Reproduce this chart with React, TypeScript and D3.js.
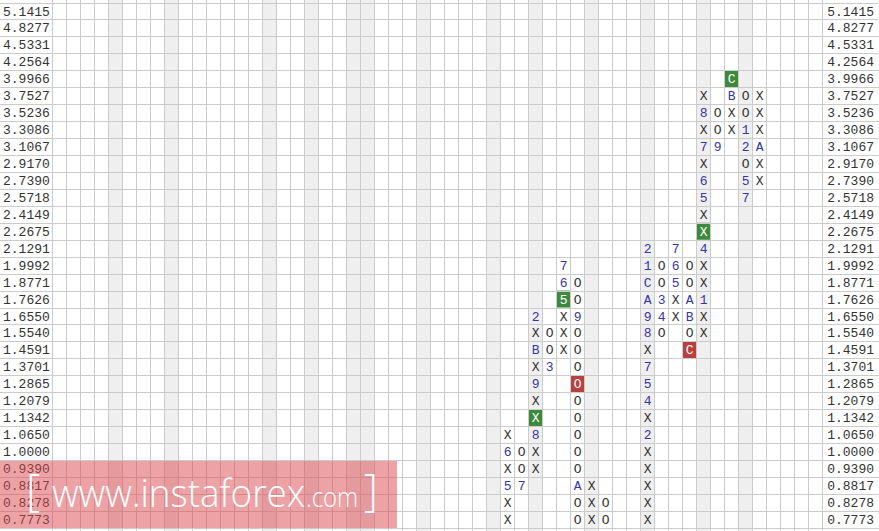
import React from 'react';
import * as d3 from 'd3';

// price boxes, top to bottom
const priceLevels = [
  '5.1415', '4.8277', '4.5331', '4.2564', '3.9966', '3.7527', '3.5236', '3.3086',
  '3.1067', '2.9170', '2.7390', '2.5718', '2.4149', '2.2675', '2.1291', '1.9992',
  '1.8771', '1.7626', '1.6550', '1.5540', '1.4591', '1.3701', '1.2865', '1.2079',
  '1.1342', '1.0650', '1.0000', '0.9390', '0.8817', '0.8278', '0.7773',
];

// columns of the point & figure chart: column index, top box, marks going down
const pfColumns = [
  { col: 32, top: '1.0650', marks: 'X6X5XX' },
  { col: 33, top: '1.0000', marks: 'OO7' },
  { col: 34, top: '1.6550', marks: '2XBX9XX8XX' },
  { col: 35, top: '1.5540', marks: 'OO3' },
  { col: 36, top: '1.9992', marks: '765XXX' },
  { col: 37, top: '1.8771', marks: 'OO9OOOOOOOOOAOO' },
  { col: 38, top: '0.8817', marks: 'XXX' },
  { col: 39, top: '0.8278', marks: 'OO' },
  { col: 42, top: '2.1291', marks: '21CA98X754X2XXXXX' },
  { col: 43, top: '1.9992', marks: 'OO34O' },
  { col: 44, top: '2.1291', marks: '765XX' },
  { col: 45, top: '1.9992', marks: 'OOABOC' },
  { col: 46, top: '3.7527', marks: 'X8X7X65XX4XX1XX' },
  { col: 47, top: '3.5236', marks: 'OO9' },
  { col: 48, top: '3.9966', marks: 'CBXX' },
  { col: 49, top: '3.7527', marks: 'OO12O57' },
  { col: 50, top: '3.7527', marks: 'XXXAXX' },
];

const greenBoxes = [
  { col: 34, price: '1.1342' },
  { col: 36, price: '1.7626' },
  { col: 46, price: '2.2675' },
  { col: 48, price: '3.9966' },
];
const redBoxes = [
  { col: 37, price: '1.2865' },
  { col: 45, price: '1.4591' },
];

const shadedColumns = [4, 8, 15, 18, 21, 22, 26, 31, 34, 38, 42, 46, 49];
const columnCount = 55;

const W = 879;
const H = 531;

const App = () => {
  const x = d3.scaleBand<number>()
    .domain(d3.range(columnCount))
    .range([53, 822.5]);
  const y = d3.scaleBand<string>()
    .domain(priceLevels)
    .range([2.5, 527.8]);

  const bw = x.bandwidth();
  const bh = y.bandwidth();

  const cells: { col: number; price: string; ch: string }[] = [];
  pfColumns.forEach(c => {
    const start = priceLevels.indexOf(c.top);
    c.marks.split('').forEach((ch, i) => {
      cells.push({ col: c.col, price: priceLevels[start + i], ch });
    });
  });
  const key = (col, price) => `${col}|${price}`;
  const green = new Set(greenBoxes.map(d => key(d.col, d.price)));
  const red = new Set(redBoxes.map(d => key(d.col, d.price)));

  const mono = '"Courier New", "Liberation Mono", monospace';

  return (
    <svg width={W} height={H} style={{ position: 'absolute', left: 0, top: 0, background: '#fff' }}>
      {shadedColumns.map(c => (
        <rect key={'s' + c} x={x(c)} y={0} width={bw} height={H} fill="#efefef" />
      ))}
      {[...greenBoxes.map(d => ({ ...d, fill: '#3d8a3d' })), ...redBoxes.map(d => ({ ...d, fill: '#b8403f' }))].map(d => (
        <rect key={'h' + d.col + d.price} x={x(d.col)} y={y(d.price)} width={bw} height={bh} fill={d.fill} />
      ))}
      {/* horizontal grid lines */}
      {d3.range(priceLevels.length + 1).map(i => {
        const yy = Math.round(2.5 + i * bh) + 0.5;
        return <line key={'h' + i} x1={0} x2={W} y1={yy} y2={yy} stroke="#cbcbcb" />;
      })}
      {/* vertical grid lines */}
      {d3.range(columnCount + 1).map(i => {
        const xx = Math.round(53 + i * bw) - 0.5;
        return <line key={'v' + i} x1={xx} x2={xx} y1={0} y2={H} stroke="#cbcbcb" />;
      })}
      {priceLevels.map(p => (
        <g key={'l' + p} fontFamily={mono} fontSize={13} fill="#333">
          <text x={3} y={y(p) + bh / 2} dy="0.35em">{p}</text>
          <text x={874} y={y(p) + bh / 2} dy="0.35em" textAnchor="end">{p}</text>
        </g>
      ))}
      {cells.map(d => {
        const k = key(d.col, d.price);
        const hl = green.has(k) || red.has(k);
        const isXO = d.ch === 'X' || d.ch === 'O';
        return (
          <text
            key={'c' + k}
            x={x(d.col) + bw / 2}
            y={y(d.price) + bh / 2}
            dy="0.35em"
            textAnchor="middle"
            fontFamily={mono}
            fontSize={13}
            fill={hl ? '#fff' : isXO ? '#333' : '#3535a6'}
          >
            {d.ch}
          </text>
        );
      })}
      {/* watermark */}
      <g>
        <rect x={0} y={461} width={397} height={67} fill="rgba(219,71,77,0.5)" />
        <g fill="#fff" fontFamily='"Open Sans", "Noto Sans", sans-serif' fontWeight={300}>
          <text x={26} y={506} fontSize={44} fontWeight={200}>[</text>
          <text x={52} y={507} fontSize={39} textLength={253} lengthAdjust="spacingAndGlyphs">www.instaforex</text>
          <text x={306} y={507} fontSize={28} textLength={52} lengthAdjust="spacingAndGlyphs">.com</text>
          <text x={364} y={506} fontSize={44} fontWeight={200}>]</text>
        </g>
      </g>
    </svg>
  );
};

export default App;
